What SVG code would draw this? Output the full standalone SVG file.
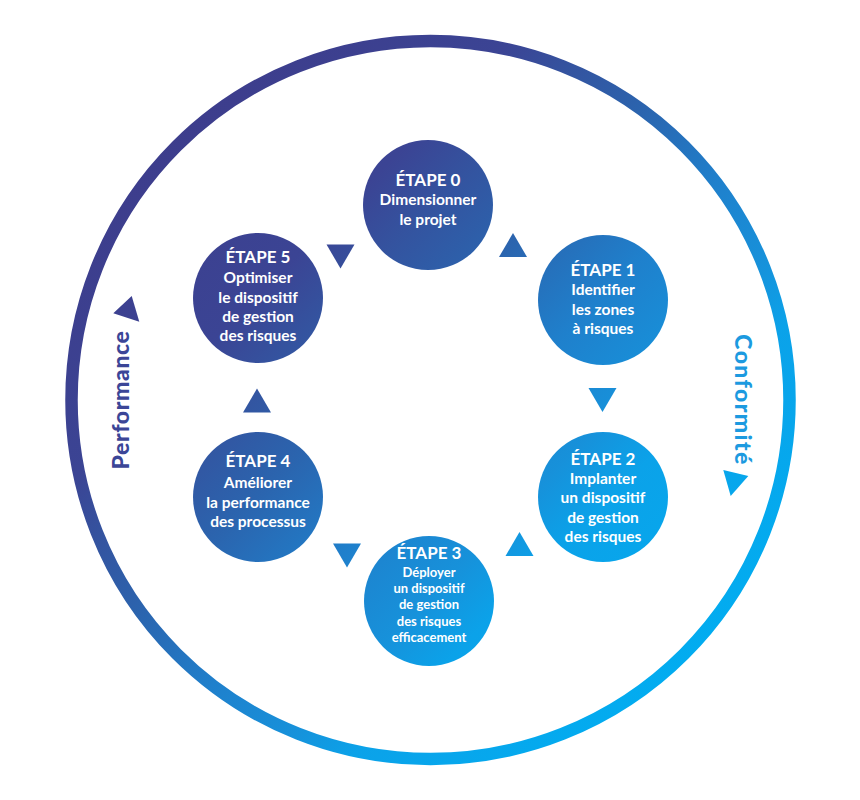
<svg xmlns="http://www.w3.org/2000/svg" width="860" height="800" viewBox="0 0 860 800">
  <defs>
    <linearGradient id="g" gradientUnits="userSpaceOnUse" x1="150" y1="150" x2="675" y2="675">
      <stop offset="0" stop-color="#3d3d8c"/>
      <stop offset="0.24" stop-color="#3b4494"/>
      <stop offset="0.32" stop-color="#34539f"/>
      <stop offset="0.43" stop-color="#2b64ae"/>
      <stop offset="0.57" stop-color="#1f80cc"/>
      <stop offset="0.69" stop-color="#1791da"/>
      <stop offset="0.77" stop-color="#0ba2e9"/>
      <stop offset="1" stop-color="#02acf0"/>
    </linearGradient>
    <style>
      .node { fill: url(#g); }
      .tri { fill: url(#g); }
      text { font-family: Lato, "Open Sans", "Liberation Sans", sans-serif; font-weight: 700; fill: #ffffff; text-anchor: middle; }
      .h { font-size: 17px; }
      .s { font-size: 15.5px; }
      .s3 { font-size: 13px; }
      .side { font-size: 23px; font-weight: 900; letter-spacing: 0.6px; }
    </style>
  </defs>
  <rect width="860" height="800" fill="#ffffff"/>
  <circle cx="430.5" cy="400" r="359" fill="none" stroke="url(#g)" stroke-width="12.5"/>

  <g id="connectors">
    <polygon class="tri" points="513,233 499,257 527,257"/>
    <polygon class="tri" points="588.5,388 616.5,388 602.5,412"/>
    <polygon class="tri" points="519.5,532 505.5,556 533.5,556"/>
    <polygon class="tri" points="333,543.5 361,543.5 347,567.5"/>
    <polygon class="tri" points="257,388.5 243,412.5 271,412.5"/>
    <polygon class="tri" points="326.5,244.5 354.5,244.5 340.5,268.5"/>
    <polygon class="tri" points="113.3,313.3 131.7,296 139.3,321.7"/>
    <polygon class="tri" points="723.3,470 748.3,476 730.7,496"/>
  </g>

  <g id="etape0">
    <circle class="node" cx="428" cy="205" r="65"/>
    <text class="h" x="428" y="186">ÉTAPE 0</text>
    <text class="s" x="428" y="205">Dimensionner</text>
    <text class="s" x="428" y="225">le projet</text>
  </g>
  <g id="etape1">
    <circle class="node" cx="603" cy="300" r="65"/>
    <text class="h" x="603" y="276">ÉTAPE 1</text>
    <text class="s" x="603" y="295">Identifier</text>
    <text class="s" x="603" y="315">les zones</text>
    <text class="s" x="603" y="334">à risques</text>
  </g>
  <g id="etape2">
    <circle class="node" cx="603" cy="497" r="65"/>
    <text class="h" x="603" y="465">ÉTAPE 2</text>
    <text class="s" x="603" y="484">Implanter</text>
    <text class="s" x="603" y="503">un dispositif</text>
    <text class="s" x="603" y="523">de gestion</text>
    <text class="s" x="603" y="542">des risques</text>
  </g>
  <g id="etape3">
    <circle class="node" cx="429" cy="601" r="65"/>
    <text class="h" x="429" y="559">ÉTAPE 3</text>
    <text class="s3" x="429" y="577">Déployer</text>
    <text class="s3" x="429" y="593">un dispositif</text>
    <text class="s3" x="429" y="609">de gestion</text>
    <text class="s3" x="429" y="626">des risques</text>
    <text class="s3" x="429" y="642">efficacement</text>
  </g>
  <g id="etape4">
    <circle class="node" cx="258" cy="497" r="65"/>
    <text class="h" x="258" y="467">ÉTAPE 4</text>
    <text class="s" x="258" y="488">Améliorer</text>
    <text class="s" x="258" y="508">la performance</text>
    <text class="s" x="258" y="527">des processus</text>
  </g>
  <g id="etape5">
    <circle class="node" cx="258" cy="298" r="65"/>
    <text class="h" x="258" y="263">ÉTAPE 5</text>
    <text class="s" x="258" y="283">Optimiser</text>
    <text class="s" x="258" y="303">le dispositif</text>
    <text class="s" x="258" y="322">de gestion</text>
    <text class="s" x="258" y="341">des risques</text>
  </g>

  <g id="performance">
    <text class="side" transform="translate(129,400) rotate(-90)" style="fill:#3b4697">Performance</text>
  </g>
  <g id="conformite">
    <text class="side" transform="translate(735,400) rotate(90)" style="fill:#1c9ae0;letter-spacing:1.4px">Conformité</text>
  </g>
</svg>
